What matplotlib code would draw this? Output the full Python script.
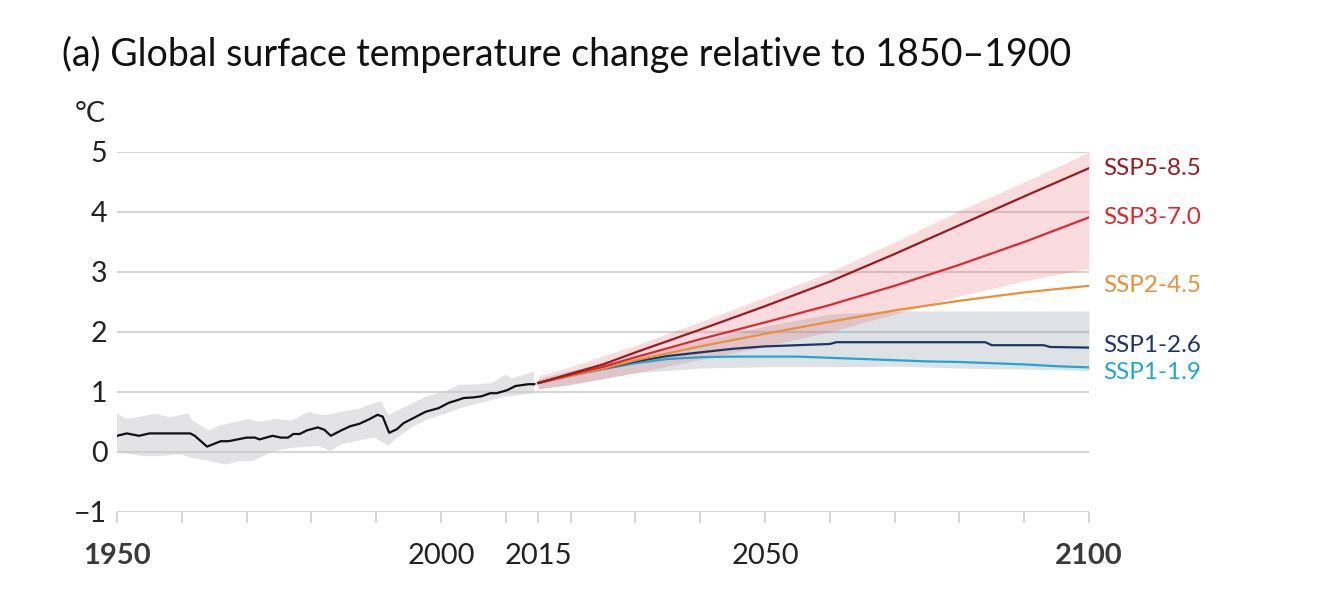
import numpy as np
import matplotlib
matplotlib.use("Agg")
import matplotlib.pyplot as plt

plt.rcParams["font.family"] = ["Lato", "DejaVu Sans"]

hist_years = [1950, 1951.5, 1953.4, 1955, 1961.3, 1962, 1963.9, 1966, 1967.2, 1970,
              1971.3, 1972, 1974, 1975.3, 1976.4, 1977.2, 1978.2, 1979.3, 1981, 1982,
              1983, 1984.6, 1986, 1987.4, 1989, 1990.2, 1991, 1992, 1993.2, 1994.2,
              1996, 1997.6, 1999.6, 2001.2, 2002.4, 2003.5, 2005, 2006.3, 2007.6,
              2008.6, 2010.2, 2011.5, 2013.5, 2014.4]
hist_temp = [0.27, 0.31, 0.27, 0.31, 0.31, 0.27, 0.09, 0.18, 0.18, 0.24,
             0.24, 0.21, 0.27, 0.24, 0.24, 0.30, 0.30, 0.36, 0.41, 0.37,
             0.27, 0.36, 0.43, 0.47, 0.55, 0.62, 0.59, 0.32, 0.38, 0.48,
             0.58, 0.67, 0.73, 0.82, 0.86, 0.90, 0.91, 0.93, 0.98,
             0.98, 1.03, 1.10, 1.13, 1.13]

hist_up_years = [1950, 1951.5, 1956, 1958, 1961, 1961.6, 1964.2, 1965.7, 1968.3, 1970.3,
                 1971.9, 1974.4, 1977, 1979.6, 1980.6, 1982.2, 1984.7, 1987.3, 1989.8,
                 1990.8, 1991.9, 1992.9, 1995, 1997.6, 2000.7, 2002.7, 2005.8, 2007.9,
                 2009.9, 2011, 2014.4]
hist_up = [0.64, 0.55, 0.64, 0.58, 0.64, 0.53, 0.36, 0.44, 0.50, 0.55,
           0.50, 0.55, 0.53, 0.67, 0.64, 0.61, 0.67, 0.72, 0.82,
           0.84, 0.61, 0.67, 0.78, 0.92, 1.01, 1.12, 1.13, 1.15,
           1.29, 1.23, 1.34]
hist_lo_years = [1950, 1954.1, 1956, 1959.8, 1961.6, 1964.2, 1966.8, 1968.8, 1970.9, 1971.9,
                 1974.4, 1977, 1981.1, 1982.9, 1984.7, 1987.3, 1989.8, 1991.9, 1992.9,
                 1995.5, 1997.6, 2000.7, 2002.7, 2005.8, 2009.9, 2014.4]
hist_lo = [0.0, -0.07, -0.07, -0.04, -0.10, -0.15, -0.21, -0.15, -0.15, -0.10,
           0.02, 0.07, 0.10, 0.02, 0.13, 0.19, 0.24, 0.10, 0.21,
           0.41, 0.53, 0.64, 0.72, 0.81, 0.92, 0.98]

# scenario projections
ssp585_years = [2015, 2025, 2030, 2040, 2050, 2060, 2070, 2080, 2090, 2100]
ssp585 = [1.15, 1.46, 1.66, 2.04, 2.43, 2.84, 3.30, 3.78, 4.26, 4.73]
ssp370_years = [2015, 2025, 2030, 2040, 2050, 2060, 2070, 2080, 2090, 2100]
ssp370 = [1.15, 1.42, 1.58, 1.88, 2.16, 2.45, 2.77, 3.12, 3.50, 3.91]
ssp245_years = [2015, 2025, 2030, 2040, 2050, 2060, 2070, 2080, 2090, 2100]
ssp245 = [1.15, 1.39, 1.53, 1.76, 1.97, 2.17, 2.36, 2.52, 2.66, 2.77]
ssp126_years = [2015, 2020, 2025, 2030, 2035, 2040, 2045, 2050, 2055, 2060, 2061,
                2084, 2085, 2093, 2094, 2100]
ssp126 = [1.15, 1.28, 1.39, 1.51, 1.60, 1.66, 1.72, 1.76, 1.78, 1.80, 1.83,
          1.83, 1.78, 1.78, 1.75, 1.74]
ssp119_years = [2015, 2020, 2025, 2030, 2035, 2040, 2045, 2055, 2060, 2065, 2070,
                2075, 2080, 2085, 2090, 2095, 2100]
ssp119 = [1.15, 1.27, 1.38, 1.48, 1.55, 1.58, 1.59, 1.59, 1.57, 1.55, 1.53,
          1.51, 1.50, 1.48, 1.46, 1.43, 1.41]

# very likely ranges
range_years = [2015, 2020, 2030, 2040, 2050, 2060, 2070, 2080, 2090, 2100]
ssp370_hi = [1.27, 1.42, 1.78, 2.17, 2.58, 3.00, 3.50, 4.02, 4.50, 5.00]
ssp370_lo = [1.05, 1.13, 1.32, 1.54, 1.76, 2.00, 2.30, 2.60, 2.85, 3.06]
ssp126_hi = [1.22, 1.36, 1.60, 1.85, 2.10, 2.30, 2.35, 2.35, 2.35, 2.35]
ssp126_lo = [1.05, 1.12, 1.32, 1.40, 1.42, 1.42, 1.43, 1.40, 1.38, 1.36]

labels = ["SSP5-8.5", "SSP3-7.0", "SSP2-4.5", "SSP1-2.6", "SSP1-1.9"]
colors = ["#9b1c1f", "#dd2a30", "#e8913a", "#1c3763", "#22a7d0"]
label_nudge = [0, 0, 0, 1.5, -3.6]  # points

fig = plt.figure(figsize=(13.33, 6.12), dpi=100)
ax = fig.add_axes([117 / 1333, 100 / 612, 972 / 1333, 360 / 612])

for s in ax.spines.values():
    s.set_visible(False)
ax.set_xlim(1950, 2100)
ax.set_ylim(-1, 5)
ax.set_yticks(range(-1, 6))
ax.yaxis.grid(True, color="#d6d6d6", linewidth=1.6, zorder=0)
ax.set_axisbelow(True)
ax.tick_params(axis="y", length=0, pad=7, labelsize=20.5, labelcolor="#222222")

ticks = sorted(list(range(1950, 2101, 10)) + [2015])
ax.set_xticks(ticks)
xlabels = {1950: "1950", 2000: "2000", 2015: "2015", 2050: "2050", 2100: "2100"}
ax.set_xticklabels([xlabels.get(t, "") for t in ticks])
ax.tick_params(axis="x", length=8, width=1.2, color="#d0d0d0", pad=14,
               labelsize=21, labelcolor="#222222")
for lab in ax.get_xticklabels():
    if lab.get_text() in ("1950", "2100"):
        lab.set_fontweight("bold")
        lab.set_color("#3a3a3a")

# historical
ax.fill(np.r_[hist_up_years, hist_lo_years[::-1]], np.r_[hist_up, hist_lo[::-1]],
        color="#c9c9cd", alpha=0.5, linewidth=0, zorder=1)
ax.plot(hist_years, hist_temp, color="#111111", linewidth=1.6, zorder=3)

# ranges
ax.fill_between(range_years, ssp126_lo, ssp126_hi, color="#8a98a8", alpha=0.28,
                linewidth=0, zorder=1)
ax.fill_between(range_years, ssp370_lo, ssp370_hi, color="#e8414a", alpha=0.18,
                linewidth=0, zorder=1, clip_on=False)

series = [(ssp585_years, ssp585), (ssp370_years, ssp370), (ssp245_years, ssp245),
          (ssp126_years, ssp126), (ssp119_years, ssp119)]
for i in [4, 3, 2, 1, 0]:
    yrs, vals = series[i]
    ax.plot(yrs, vals, color=colors[i], linewidth=1.6, zorder=3 + (5 - i) * 0.1)
for i, (yrs, vals) in enumerate(series):
    ax.annotate(labels[i], xy=(yrs[-1], vals[-1]), xytext=(10, label_nudge[i]),
                textcoords="offset points", va="center", ha="left",
                fontsize=17.5, color=colors[i], annotation_clip=False)

fig.text(62 / 1333, 1 - 66 / 612, "(a) Global surface temperature change relative to 1850\u20131900",
         fontsize=27, color="#111111", va="baseline", ha="left")
fig.text(75 / 1333, 1 - 122 / 612, "\u00b0C", fontsize=20.5, color="#222222",
         va="baseline", ha="left")

fig.savefig("out.png", dpi=100)
